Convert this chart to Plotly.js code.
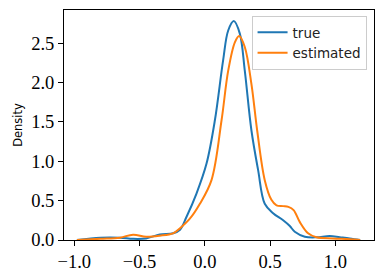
<!DOCTYPE html>
<html>
<head>
<meta charset="utf-8">
<script src="https://cdn.plot.ly/plotly-3.0.1.min.js"></script>
<style>html,body{margin:0;padding:0;background:#fff;}#chart{width:383px;height:278px;}</style>
</head>
<body>
<div id="chart"></div>
<script>
// KDE curve samples
const trueX = [-0.98, -0.80, -0.65, -0.55, -0.45, -0.345, -0.243, -0.19, -0.14, -0.064, 0.013, 0.077, 0.14, 0.179, 0.222, 0.268, 0.306, 0.357, 0.408, 0.459, 0.523, 0.60, 0.651, 0.689, 0.766, 0.855, 0.957, 1.034, 1.11, 1.19];
const trueY = [0.0, 0.03, 0.03, 0.015, 0.02, 0.07, 0.085, 0.13, 0.295, 0.59, 0.97, 1.52, 2.28, 2.66, 2.78, 2.62, 2.15, 1.39, 0.89, 0.46, 0.34, 0.25, 0.177, 0.105, 0.042, 0.034, 0.05, 0.035, 0.02, 0.0];
const estX = [-0.98, -0.80, -0.65, -0.55, -0.45, -0.345, -0.243, -0.19, -0.115, -0.038, 0.051, 0.128, 0.179, 0.230, 0.263, 0.306, 0.357, 0.401, 0.459, 0.51, 0.549, 0.60, 0.64, 0.68, 0.727, 0.791, 0.855, 0.98, 1.11, 1.19];
const estY = [0.0, 0.015, 0.03, 0.068, 0.042, 0.055, 0.085, 0.15, 0.27, 0.46, 0.76, 1.52, 2.15, 2.51, 2.59, 2.45, 1.98, 1.39, 0.76, 0.51, 0.44, 0.43, 0.42, 0.38, 0.23, 0.085, 0.034, 0.02, 0.01, 0.0];
const seriesNames = ["true", "estimated"];
const xTicks = [-1.0, -0.5, 0.0, 0.5, 1.0];
const yTicks = [0.0, 0.5, 1.0, 1.5, 2.0, 2.5];

const traces = [
  {x: trueX, y: trueY, name: seriesNames[0], mode: "lines", line: {color: "#1f77b4", width: 2, shape: "spline", smoothing: 1}},
  {x: estX, y: estY, name: seriesNames[1], mode: "lines", line: {color: "#ff7f0e", width: 2, shape: "spline", smoothing: 1}}
];

const axisCommon = {
  showgrid: false, zeroline: false, showline: true, mirror: true,
  linecolor: "black", linewidth: 1, ticks: "outside", ticklen: 5, tickwidth: 1, tickcolor: "black",
  tickfont: {family: "Liberation Serif, Times New Roman, serif", size: 18.5, color: "black"}
};

const layout = {
  width: 383, height: 278,
  margin: {l: 64, r: 9, t: 10, b: 38},
  paper_bgcolor: "white", plot_bgcolor: "white",
  showlegend: true,
  xaxis: Object.assign({}, axisCommon, {range: [-1.079, 1.296], tickvals: xTicks, tickformat: ".1f"}),
  yaxis: Object.assign({}, axisCommon, {range: [0, 2.92], tickvals: yTicks, tickformat: ".1f",
    title: {text: "Density", font: {family: "DejaVu Sans, sans-serif", size: 11.5, color: "black"}, standoff: 6}}),
  legend: {x: 0.976, y: 0.974, xanchor: "right", yanchor: "top",
    bgcolor: "rgba(255,255,255,0.8)", bordercolor: "#cccccc", borderwidth: 1,
    font: {family: "DejaVu Sans, sans-serif", size: 13.5, color: "#222"}}
};

Plotly.newPlot("chart", traces, layout, {displayModeBar: false, staticPlot: true});
</script>
</body>
</html>
